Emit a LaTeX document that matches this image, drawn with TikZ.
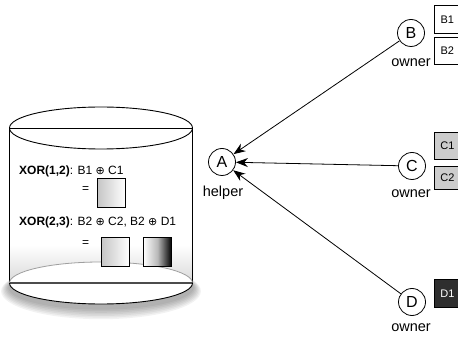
\documentclass[tikz,border=0pt]{standalone}
\usepackage{fontspec}
\setmainfont{Liberation Sans}
\newfontfamily\symfont{DejaVu Sans}
\usetikzlibrary{arrows.meta}
\newcommand{\xo}{{\symfont\fontsize{11}{12}\selectfont ⊕}}
\begin{document}
\begin{tikzpicture}[x=1pt,y=-1pt,
  peer/.style={circle,draw,line width=0.8pt,minimum size=27pt,inner sep=0pt,font=\fontsize{16}{16}\selectfont},
  lbl/.style={font=\fontsize{14.5}{15}\selectfont},
  blk/.style={draw,line width=0.7pt,minimum width=26pt,anchor=north west,inner sep=0pt,font=\fontsize{11}{12}\selectfont},
  xbox/.style={draw,line width=0.9pt,minimum width=28pt,minimum height=29pt,anchor=north west,inner sep=0pt},
  xtxt/.style={anchor=west,font=\fontsize{12}{13}\selectfont,inner sep=0pt},
  arr/.style={-{Stealth[length=12pt,width=9pt]},line width=0.8pt},
  cyl/.style={line width=0.9pt}]
\useasboundingbox (0,0) rectangle (458,339);
% ---- cylinder ----
\foreach \i in {1,...,7}{
  \fill[black,opacity=0.05] (101,{287+0.6*\i}) ellipse [x radius={91.5pt+1.2pt*\i}, y radius={21pt+1.0pt*\i}];
}
\shade[top color=white,bottom color=gray!30] (10,245) rectangle (193,283);
\fill[white] (101,283) ellipse [x radius=91.5pt, y radius=21pt];
\draw[cyl] (101,128) ellipse [x radius=91.5pt, y radius=21pt];
\draw[cyl] (9.5,128) -- (192.5,128);
\draw[cyl] (9.5,128) -- (9.5,283);
\draw[cyl] (192.5,128) -- (192.5,283);
\draw[line width=0.8pt,gray!75] (9.5,283) arc[start angle=180,end angle=0,x radius=91.5pt,y radius=21pt];
\draw[line width=1.4pt,black!70] (9.5,283) -- (192.5,283);
\draw[cyl] (9.5,283) arc[start angle=180,end angle=360,x radius=91.5pt,y radius=21pt];
% ---- contents ----
\node[xtxt] (x12) at (19,171) {\textbf{XOR(1,2)}: B1 \xo{} C1};
\node[xtxt] (eq1) at (82,190) {=};
\node[xbox,left color=gray!45,right color=white] (s1) at (97,178) {};
\node[xtxt] (x23) at (19,222) {\textbf{XOR(2,3)}: B2 \xo{} C2, B2 \xo{} D1};
\node[xtxt] (eq2) at (82,244) {=};
\node[xbox,left color=gray!45,right color=white] (s2) at (101,237) {};
\node[xbox,left color=white,right color=black,middle color=gray!55] (s3) at (143,237) {};
% ---- peers ----
\node[peer] (A) at (222,162) {A};
\node[lbl] (hA) at (223,193) {helper};
\node[peer] (B) at (411,33) {B};
\node[lbl] (hB) at (411,63) {owner};
\node[peer] (C) at (412,166) {C};
\node[lbl] (hC) at (411,194) {owner};
\node[peer] (D) at (412,302) {D};
\node[lbl] (hD) at (411,328) {owner};
% ---- blocks ----
\node[blk,minimum height=28pt] (B1) at (434,5) {B1};
\node[blk,minimum height=27pt] (B2) at (434,37) {B2};
\node[blk,minimum height=27pt,fill=gray!40] (C1) at (434,132) {C1};
\node[blk,minimum height=23pt,fill=gray!40] (C2) at (434,166) {C2};
\node[blk,minimum height=28pt,fill=black!82,text=white] (D1) at (434,279) {D1};
% ---- arrows ----
\draw[arr] (B) -- (A);
\draw[arr] (C) -- (A);
\draw[arr] (D) -- (A);
\end{tikzpicture}
\end{document}
